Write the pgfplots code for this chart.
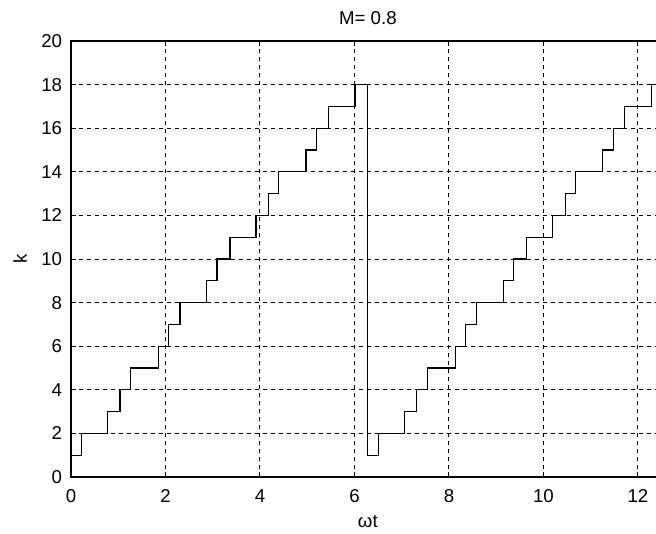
\documentclass[border=0pt]{standalone}
\usepackage{fontspec}
\setmainfont{Liberation Sans}
\usepackage{pgfplots}
\pgfplotsset{compat=1.18}
\begin{document}
\begin{tikzpicture}
\begin{axis}[
  scale only axis,
  width=445.3pt, height=327pt,
  xmin=0, xmax=12.566, ymin=0, ymax=20,
  xtick={0,2,...,12}, ytick={0,2,...,20},
  grid=major,
  grid style={black, line width=0.75pt, dash pattern=on 3pt off 3pt},
  axis line style={black, line width=0.8pt},
  tick align=inside,
  major tick length=3.75pt,
  tick style={black, line width=0.75pt},
  /pgf/number format/assume math mode=true,
  tick label style={font=\fontsize{14}{16}\selectfont},
  xticklabel style={anchor=base, inner sep=0pt, yshift=-18.75pt},
  yticklabel style={anchor=east, inner sep=0pt, xshift=-6.5pt},
  clip=false,
]
\addplot[const plot, black, line width=0.8pt] coordinates {
(0,1) (0.226,2) (0.776,3) (1.037,4) (1.256,5) (1.848,6) (2.06,7) (2.307,8)
(2.87,9) (3.09,10) (3.365,11) (3.915,12) (4.176,13) (4.395,14) (4.974,15)
(5.19,16) (5.44,17) (6.01,18) (6.283,1)
(6.509,2) (7.059,3) (7.320,4) (7.539,5) (8.131,6) (8.343,7) (8.590,8)
(9.153,9) (9.373,10) (9.648,11) (10.198,12) (10.459,13) (10.678,14)
(11.257,15) (11.473,16) (11.723,17) (12.293,18) (12.566,18)
};
\node[anchor=base, font=\fontsize{14}{16}\selectfont] at ([yshift=12.75pt]rel axis cs:0.5,1) {M= 0.8};
\node[anchor=base, font=\fontsize{14}{16}\selectfont] at ([yshift=-38pt]rel axis cs:0.5,0) {ωt};
\node[anchor=base, rotate=90, font=\fontsize{14}{16}\selectfont] at ([xshift=-33pt]rel axis cs:0,0.5) {k};
\end{axis}
\pgfresetboundingbox
\useasboundingbox (-53.25pt,-42pt) rectangle (438.75pt,357.75pt);
\end{tikzpicture}
\end{document}
